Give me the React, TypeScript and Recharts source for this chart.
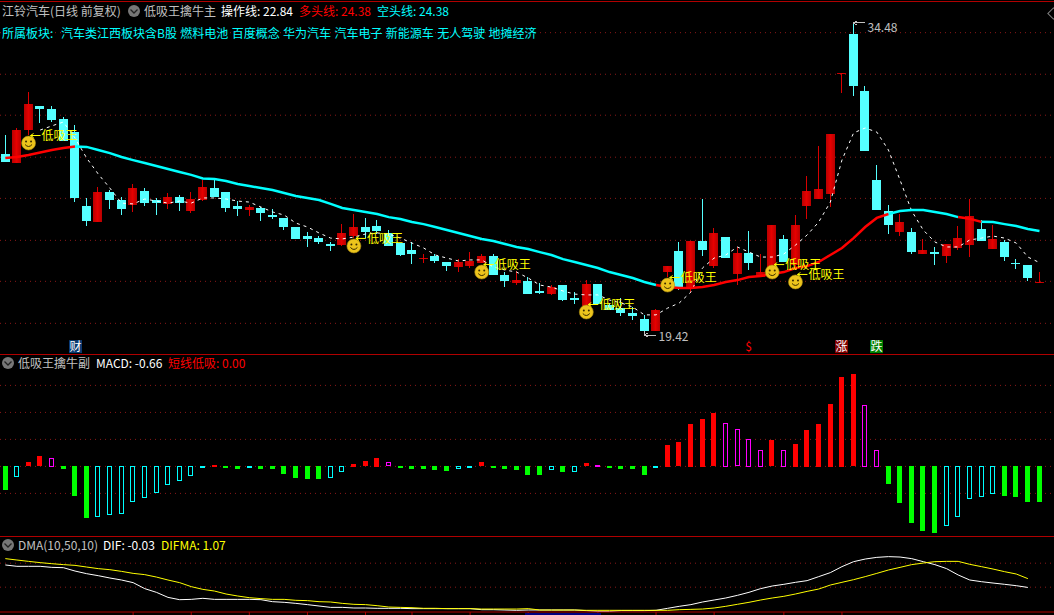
import { Bar, CartesianGrid, ComposedChart, Line, XAxis, YAxis } from "recharts";

// 江铃汽车 daily candles
const opens = [28.11,27.68,29.28,30.45,30.30,29.82,29.18,25.59,24.81,26.27,25.88,25.64,26.32,25.88,25.69,26.03,25.35,25.88,26.46,26.27,25.59,25.40,25.49,25.15,25.01,24.57,24.13,24.03,23.74,23.69,24.13,24.57,24.62,24.28,23.79,23.45,23.01,23.16,22.87,22.63,22.67,22.82,23.16,22.24,21.85,21.95,21.46,21.31,21.75,21.12,20.73,21.80,20.78,20.63,20.39,20.10,19.52,22.38,23.40,21.65,23.89,22.67,24.08,22.29,23.31,22.14,22.38,23.99,22.72,25.59,25.93,26.17,32.00,33.94,31.18,26.85,25.35,24.33,24.33,23.26,23.35,23.16,23.55,23.69,24.47,23.50,23.84,22.82,22.72,21.85];
const closes = [27.73,29.28,30.55,30.30,29.77,28.75,25.98,24.86,26.27,25.88,25.44,26.46,25.73,25.73,26.03,25.73,25.93,26.51,26.03,25.49,25.44,25.54,25.25,25.05,24.57,23.99,23.99,23.84,23.65,24.28,24.57,24.33,24.38,23.65,23.21,23.26,23.06,22.92,22.67,22.87,22.92,23.16,22.24,21.95,21.99,21.31,21.36,21.65,21.02,21.02,21.80,20.83,20.54,20.39,20.25,19.52,20.54,22.67,21.65,23.89,23.45,24.28,23.06,23.31,22.82,22.38,24.67,22.87,24.67,26.32,26.42,29.09,32.05,31.42,28.26,25.40,24.67,24.81,23.35,23.45,23.26,23.74,24.03,25.10,23.89,23.99,23.11,22.77,22.09,21.90];
const highs = [29.04,29.38,31.13,30.45,30.45,29.91,29.52,25.98,26.51,26.37,26.03,26.66,26.46,25.98,26.22,26.13,26.27,26.85,26.85,26.27,25.83,25.64,25.54,25.44,25.01,24.57,24.33,24.13,23.84,24.71,25.20,25.01,24.91,24.42,23.79,23.84,23.26,23.26,22.87,23.01,23.35,23.26,23.26,22.38,22.43,22.14,21.85,21.75,21.75,21.41,21.99,21.80,20.88,21.12,20.68,20.30,20.58,22.67,23.84,23.89,25.93,24.52,24.08,23.60,24.38,23.26,24.67,24.18,25.15,27.05,28.50,29.09,32.05,34.48,31.42,27.58,25.64,25.20,24.52,23.99,23.60,23.74,24.62,25.93,24.91,24.67,23.94,23.01,22.72,22.38];
const lows = [27.73,27.68,29.04,29.62,29.67,28.75,25.78,24.62,24.81,25.44,25.15,25.30,25.59,25.15,25.44,25.35,25.25,25.83,26.03,25.30,25.10,25.10,24.86,24.96,24.42,23.99,23.60,23.74,23.40,23.65,24.03,24.03,24.23,23.65,23.16,22.77,22.82,22.82,22.43,22.38,22.58,22.82,22.24,21.65,21.75,21.31,21.31,21.27,20.97,20.83,20.73,20.83,20.54,20.25,20.05,19.42,19.52,22.14,21.51,21.36,23.16,22.58,23.06,21.75,22.48,22.14,22.38,22.87,22.48,24.96,25.93,25.54,31.08,30.93,28.26,25.40,24.23,24.13,23.26,23.26,22.72,22.82,23.45,23.11,23.89,23.50,22.92,22.53,21.95,21.85];

// 多头线 / 空头线 is one curve, red on the bull stretches and cyan elsewhere
const trendLine = [27.92,27.97,28.07,28.19,28.31,28.41,28.48,28.46,28.31,28.16,27.97,27.82,27.68,27.53,27.39,27.24,27.10,26.93,26.90,26.80,26.66,26.56,26.46,26.37,26.22,26.08,25.98,25.88,25.69,25.49,25.40,25.30,25.20,25.05,24.96,24.81,24.71,24.57,24.42,24.28,24.13,23.99,23.89,23.74,23.60,23.50,23.35,23.21,23.01,22.87,22.72,22.58,22.38,22.24,22.09,21.90,21.75,21.65,21.61,21.61,21.65,21.75,21.90,21.99,22.14,22.19,22.29,22.38,22.58,22.67,22.87,23.21,23.55,24.03,24.57,25.01,25.20,25.35,25.40,25.40,25.30,25.20,25.05,24.97,24.82,24.81,24.71,24.62,24.47,24.38];
const bullStretches = [[0, 6], [56, 76], [82, 84]];

// 操作线, starts on the fourth bar
const operateLine = [null,null,null,29.28,29.48,29.67,28.89,27.92,27.14,26.46,25.73,25.69,25.93,25.83,25.73,25.83,25.73,25.98,25.98,25.93,25.83,25.78,25.54,25.30,25.15,24.76,24.57,24.28,24.03,23.99,24.08,24.23,24.28,24.23,24.03,23.79,23.55,23.21,23.06,22.92,22.97,22.97,22.63,22.48,22.38,22.09,21.75,21.65,21.46,21.31,21.27,21.27,21.02,20.88,20.68,20.30,20.30,20.63,20.88,21.41,22.58,23.06,23.21,23.60,23.35,23.11,23.11,23.26,23.69,24.18,24.81,25.78,27.82,29.14,29.38,29.18,28.31,26.85,25.35,24.42,23.84,23.60,23.60,23.94,24.03,24.13,24.03,23.79,23.11,22.84];

// 低吸王 signals: bar index and the price the smiley sits at
const signalBars = [2, 30, 41, 50, 57, 66, 68];
const signalPrices = [28.65, 23.65, 22.38, 20.44, 21.75, 22.38, 21.90];

const highBar = 73;
const highPrice = 34.48;
const lowBar = 55;
const lowPrice = 19.42;

const eventBars = [6, 64, 72, 75];
const eventTexts = ["财", "$", "涨", "跌"];
const eventLevel = 18.76;

const priceGrid = [34.01, 31.99, 30.0, 27.96, 25.96, 23.92, 21.93, 19.89];

// 低吸王擒牛副
const macdValues = [-0.44,-0.21,0.08,0.19,0.16,-0.06,-0.56,-0.97,-0.95,-0.91,-0.89,-0.67,-0.60,-0.50,-0.35,-0.28,-0.19,-0.03,0.03,-0.03,-0.05,-0.03,-0.05,-0.06,-0.14,-0.23,-0.25,-0.25,-0.23,-0.12,0.05,0.10,0.16,0.08,-0.03,-0.05,-0.06,-0.08,-0.10,-0.06,-0.01,0.08,-0.01,-0.06,-0.08,-0.16,-0.16,-0.08,-0.12,-0.12,0.06,0.03,-0.03,-0.06,-0.06,-0.16,-0.03,0.40,0.45,0.79,0.88,0.99,0.81,0.69,0.51,0.31,0.49,0.31,0.42,0.68,0.79,1.16,1.66,1.71,1.14,0.31,-0.34,-0.68,-1.06,-1.21,-1.25,-1.12,-0.94,-0.62,-0.58,-0.51,-0.55,-0.58,-0.66,-0.66];
// R solid red, M hollow magenta, G solid green, C hollow cyan
const macdKinds = "GCRRMGGGCCCCCCCCCCRGGCGGGGGGCCRRRMGGGGGCCRGGGGGCGCRMGGGGCRRRRRMMMMRMRRRRRRMMGGGGGCCCCCGGGG".split("");
const macdGrid = [1.5, 1, 0.5, 0, -0.5];

// DMA(10,50,10)
const difValues = [2.78,2.61,2.61,2.61,2.48,2.44,2.02,1.69,1.44,1.15,0.90,0.57,-0.18,-0.64,-1.27,-1.56,-1.52,-1.39,-1.52,-1.52,-1.52,-1.52,-1.56,-1.81,-1.89,-2.02,-2.18,-2.35,-2.52,-2.52,-2.60,-2.60,-2.64,-2.64,-2.64,-2.68,-2.68,-2.68,-2.68,-2.68,-2.68,-2.81,-2.81,-2.85,-2.89,-2.85,-2.85,-2.85,-2.85,-2.85,-2.93,-3.02,-3.02,-2.93,-2.93,-2.93,-2.89,-2.64,-2.39,-2.18,-1.85,-1.60,-1.35,-1.02,-0.64,-0.18,0.15,0.36,0.61,0.82,1.32,1.82,2.57,3.19,3.52,3.73,3.82,3.77,3.57,3.19,2.82,2.32,1.53,0.90,0.69,0.52,0.36,0.19,-0.03,null];
const difmaValues = [3.57,3.40,3.23,3.07,2.94,2.82,2.73,2.52,2.32,2.19,1.98,1.73,1.57,1.27,0.90,0.57,0.07,-0.27,-0.48,-0.85,-1.10,-1.31,-1.43,-1.52,-1.52,-1.64,-1.68,-1.81,-1.85,-2.02,-2.14,-2.18,-2.31,-2.48,-2.52,-2.56,-2.64,-2.64,-2.68,-2.68,-2.68,-2.73,-2.73,-2.73,-2.73,-2.68,-2.85,-2.85,-2.85,-2.85,-2.89,-2.89,-2.89,-2.89,-2.89,-2.89,-2.89,-2.89,-2.81,-2.77,-2.73,-2.60,-2.39,-2.14,-1.89,-1.60,-1.35,-1.14,-0.85,-0.52,-0.23,0.27,0.61,0.94,1.32,1.73,2.15,2.48,2.82,3.02,3.19,3.23,3.23,2.86,2.57,2.27,1.94,1.65,1.07,null];
const dmaGrid = [3, 0];
const dmaTicks = [11, 16, 21, 26, 31, 35, 40, 45, 51, 56, 61, 67, 72];

const RED = "#ff0000";
const CYAN = "#00ffff";
const CANDLE_CYAN = "#55ffff";
const CANDLE_RED = "#d80000";
const GRID = "#8a1818";
const BORDER = "#b00000";
const GREY = "#c0c0c0";
const FONT = '"Noto Sans CJK SC", "Noto Sans", sans-serif';

const W = 1054;
// bars sit in bands, the DMA panel has lines only so its axis uses points
const bandPadding = { left: -0.5, right: 8.7 };
const pointPadding = { left: 5.3, right: 14.5 };

const inBull = (i: number) => bullStretches.some(([a, b]) => i >= a && i <= b);
const inBear = (i: number) => i >= 6 && !bullStretches.some(([a, b]) => i > a && i < b);

const priceData = opens.map((open, i) => {
  const signalAt = signalBars.indexOf(i);
  const eventAt = eventBars.indexOf(i);
  const rising = closes[i] >= open;
  return {
    idx: i,
    open,
    close: closes[i],
    high: highs[i],
    low: lows[i],
    upRange: rising ? [lows[i], highs[i]] : null,
    downRange: rising ? null : [lows[i], highs[i]],
    bull: inBull(i) ? trendLine[i] : null,
    bear: inBear(i) ? trendLine[i] : null,
    operate: operateLine[i],
    signal: signalAt >= 0 ? signalPrices[signalAt] : null,
    extreme: i === highBar ? highPrice : i === lowBar ? lowPrice : null,
    event: eventAt >= 0 ? eventLevel : null,
    eventText: eventAt >= 0 ? eventTexts[eventAt] : "",
  };
});

const macdData = macdValues.map((macd, i) => ({ idx: i, macd, kind: macdKinds[i] }));
const dmaData = difValues.map((dif, i) => ({ idx: i, dif, difma: difmaValues[i] }));

function Candle({ x, y, width, height, payload, rising }: any) {
  const { open, close, high, low } = payload;
  if ((close >= open) !== rising || !height) return <g />;
  const unit = height / (high - low);
  const center = Math.floor(x + width / 2);
  const bodyTop = Math.round(y + (high - Math.max(open, close)) * unit);
  const bodyH = Math.max(1, Math.round(Math.abs(open - close) * unit));
  const color = rising ? CANDLE_RED : CANDLE_CYAN;
  return (
    <g shapeRendering="crispEdges">
      <rect x={center} y={Math.round(y)} width={1} height={Math.max(1, Math.round(height))} fill={color} />
      <rect x={center - 4} y={bodyTop} width={9} height={bodyH} fill={rising ? "url(#redBody)" : color} />
    </g>
  );
}

function MacdBar({ x, y, width, height, payload }: any) {
  const top = Math.round(Math.min(y, y + height));
  const h = Math.max(2, Math.round(Math.abs(height)));
  const left = Math.floor(x + width / 2) - 2;
  const { kind } = payload;
  if (kind === "R" || kind === "G") {
    return <rect x={left} y={top} width={5} height={h} fill={kind === "R" ? RED : "#00ff00"} shapeRendering="crispEdges" />;
  }
  return (
    <rect x={left + 0.5} y={top + 0.5} width={4} height={h - 1} fill="#000" stroke={kind === "M" ? "#ff00ff" : CYAN} shapeRendering="crispEdges" />
  );
}

function SignalMark({ cx, cy, index }: any) {
  if (cy == null) return <g key={index} />;
  return (
    <g key={index}>
      <circle cx={cx} cy={cy} r={7} fill="#ecc41c" stroke="#a88a10" strokeWidth={0.6} />
      <circle cx={cx - 2.5} cy={cy - 1.5} r={1} fill="#3a2c00" />
      <circle cx={cx + 2.5} cy={cy - 1.5} r={1} fill="#3a2c00" />
      <path d={`M${cx - 3.5} ${cy + 1.5}Q${cx} ${cy + 5.5} ${cx + 3.5} ${cy + 1.5}`} fill="none" stroke="#3a2c00" strokeWidth={1} />
      <path d={`M${cx + 2} ${cy - 7.5}H${cx + 12}M${cx + 2} ${cy - 7.5}l3 -2M${cx + 2} ${cy - 7.5}l3 2`} fill="none" stroke="#ffff00" strokeWidth={1} />
      <text x={cx + 13} y={cy - 3} fontSize={12} fill="#ffff00">低吸王</text>
    </g>
  );
}

function ExtremeMark({ cx, cy, index, value }: any) {
  if (cy == null) return <g key={index} />;
  const isHigh = value === highPrice;
  const left = Math.floor(cx) + 0.5;
  const arrowY = isHigh ? cy : cy + 2;
  return (
    <g key={index}>
      <path
        d={`M${left} ${cy + (isHigh ? 1 : -2)}V${arrowY}H${left + 11}M${left} ${arrowY}l3 -2M${left} ${arrowY}l3 2`}
        fill="none"
        stroke={GREY}
        strokeWidth={1}
        shapeRendering="crispEdges"
      />
      <text x={left + 14} y={arrowY + (isHigh ? 9 : 6)} fontSize={12} fill={GREY}>{value.toFixed(2)}</text>
    </g>
  );
}

function EventMark({ cx, cy, index, payload }: any) {
  if (cy == null) return <g key={index} />;
  const text = payload.eventText;
  const bg = text === "财" ? "#0a3a70" : text === "涨" ? "#800000" : text === "跌" ? "#008000" : "none";
  return (
    <g key={index}>
      <rect x={Math.floor(cx) - 6} y={cy - 6.5} width={13} height={13} fill={bg} />
      <text x={Math.floor(cx) + 0.5} y={cy + 4.5} fontSize={12} textAnchor="middle" fill={text === "$" ? RED : "#ffffff"}>{text}</text>
    </g>
  );
}

function HeaderIcon({ x, y }: { x: number; y: number }) {
  return (
    <svg width={14} height={14} style={{ position: "absolute", left: x, top: y }}>
      <circle cx={7} cy={7} r={6} fill="#777777" />
      <path d="M3.5 5.5L7 9L10.5 5.5" fill="none" stroke="#222222" strokeWidth={1.3} />
    </svg>
  );
}

function Caption({ x, y, color, children, wordSpacing }: { x: number; y: number; color: string; children: string; wordSpacing?: number }) {
  return (
    <div style={{ position: "absolute", left: x, top: y, color, fontSize: 12, lineHeight: "14px", whiteSpace: "pre", wordSpacing }}>
      {children}
    </div>
  );
}

function Rule({ y }: { y: number }) {
  return <div style={{ position: "absolute", left: 0, top: y, width: W, height: 1, background: BORDER }} />;
}

export default function App() {
  return (
    <div style={{ position: "absolute", left: 0, top: 0, width: W, height: 615, background: "#000", overflow: "hidden", fontFamily: FONT }}>
      <div style={{ position: "absolute", left: 0, top: 0 }}>
        <ComposedChart width={W} height={354} data={priceData} margin={{ top: 0, right: 0, bottom: 0, left: 0 }} barSize={9} barGap={-9}>
          <defs>
            <linearGradient id="redBody" x1="0" y1="0" x2="1" y2="0">
              <stop offset="0" stopColor="#b80000" />
              <stop offset="0.5" stopColor="#e60000" />
              <stop offset="1" stopColor="#b80000" />
            </linearGradient>
          </defs>
          <CartesianGrid vertical={false} horizontalValues={priceGrid} stroke={GRID} strokeDasharray="1 4" />
          <XAxis dataKey="idx" hide padding={bandPadding} />
          <YAxis hide domain={[18.4, 35.597]} allowDataOverflow />
          <Bar dataKey="downRange" shape={<Candle rising={false} />} isAnimationActive={false} />
          <Line dataKey="operate" stroke="#ffffff" strokeWidth={1} strokeDasharray="3 4" dot={false} activeDot={false} isAnimationActive={false} />
          <Bar dataKey="upRange" shape={<Candle rising={true} />} isAnimationActive={false} />
          <Line dataKey="bear" stroke={CYAN} strokeWidth={2.5} dot={false} activeDot={false} isAnimationActive={false} />
          <Line dataKey="bull" stroke={RED} strokeWidth={2.5} dot={false} activeDot={false} isAnimationActive={false} />
          <Line dataKey="signal" stroke="none" activeDot={false} dot={(p: any) => <SignalMark key={p.index} {...p} />} isAnimationActive={false} />
          <Line dataKey="extreme" stroke="none" activeDot={false} dot={(p: any) => <ExtremeMark key={p.index} {...p} />} isAnimationActive={false} />
          <Line dataKey="event" stroke="none" activeDot={false} dot={(p: any) => <EventMark key={p.index} {...p} />} isAnimationActive={false} />
        </ComposedChart>
      </div>

      <div style={{ position: "absolute", left: 0, top: 355 }}>
        <ComposedChart width={W} height={181} data={macdData} margin={{ top: 0, right: 0, bottom: 0, left: 0 }} barSize={5}>
          <CartesianGrid vertical={false} horizontalValues={macdGrid} stroke={GRID} strokeDasharray="1 4" />
          <XAxis dataKey="idx" hide padding={bandPadding} />
          <YAxis hide domain={[-1.289, 2.063]} allowDataOverflow />
          <Bar dataKey="macd" shape={<MacdBar />} isAnimationActive={false} />
        </ComposedChart>
      </div>

      <div style={{ position: "absolute", left: 0, top: 537 }}>
        <ComposedChart width={W} height={78} data={dmaData} margin={{ top: 0, right: 0, bottom: 0, left: 0 }}>
          <CartesianGrid vertical={false} horizontalValues={dmaGrid} stroke={GRID} strokeDasharray="1 4" />
          <XAxis
            dataKey="idx"
            height={3}
            padding={pointPadding}
            ticks={dmaTicks}
            interval={0}
            tickSize={3}
            tickFormatter={() => ""}
            stroke={BORDER}
          />
          <YAxis hide domain={[-3.1, 6.275]} allowDataOverflow />
          <Line dataKey="dif" stroke="#ffffff" strokeWidth={1} dot={false} activeDot={false} isAnimationActive={false} />
          <Line dataKey="difma" stroke="#ffff00" strokeWidth={1} dot={false} activeDot={false} isAnimationActive={false} />
        </ComposedChart>
      </div>

      <Rule y={1} />
      <Rule y={354} />
      <Rule y={536} />
      <div style={{ position: "absolute", left: 525, top: 613, width: 76, height: 2, background: "#000080" }} />
      <div style={{ position: "absolute", left: 1049, top: 9, width: 7, height: 7, border: "1px solid #808080", transform: "rotate(45deg)" }} />

      <Caption x={2} y={4} color={GREY}>江铃汽车(日线 前复权)</Caption>
      <HeaderIcon x={127} y={4} />
      <Caption x={144} y={4} color={GREY}>低吸王擒牛主</Caption>
      <Caption x={221} y={4} color="#ffffff">操作线: 22.84</Caption>
      <Caption x={299} y={4} color={RED}>多头线: 24.38</Caption>
      <Caption x={377} y={4} color={CYAN}>空头线: 24.38</Caption>
      <Caption x={2} y={26} color={CYAN}>所属板块:</Caption>
      <Caption x={61} y={26} color={CYAN} wordSpacing={0.7}>汽车类江西板块含B股 燃料电池 百度概念 华为汽车 汽车电子 新能源车 无人驾驶 地摊经济</Caption>

      <HeaderIcon x={1} y={356} />
      <Caption x={18} y={356} color={GREY}>低吸王擒牛副</Caption>
      <Caption x={96} y={356} color="#ffffff">MACD: -0.66</Caption>
      <Caption x={168} y={356} color={RED}>短线低吸: 0.00</Caption>

      <HeaderIcon x={1} y={538} />
      <Caption x={18} y={538} color={GREY}>DMA(10,50,10)</Caption>
      <Caption x={103} y={538} color="#ffffff">DIF: -0.03</Caption>
      <Caption x={161} y={538} color="#ffff00">DIFMA: 1.07</Caption>
    </div>
  );
}
